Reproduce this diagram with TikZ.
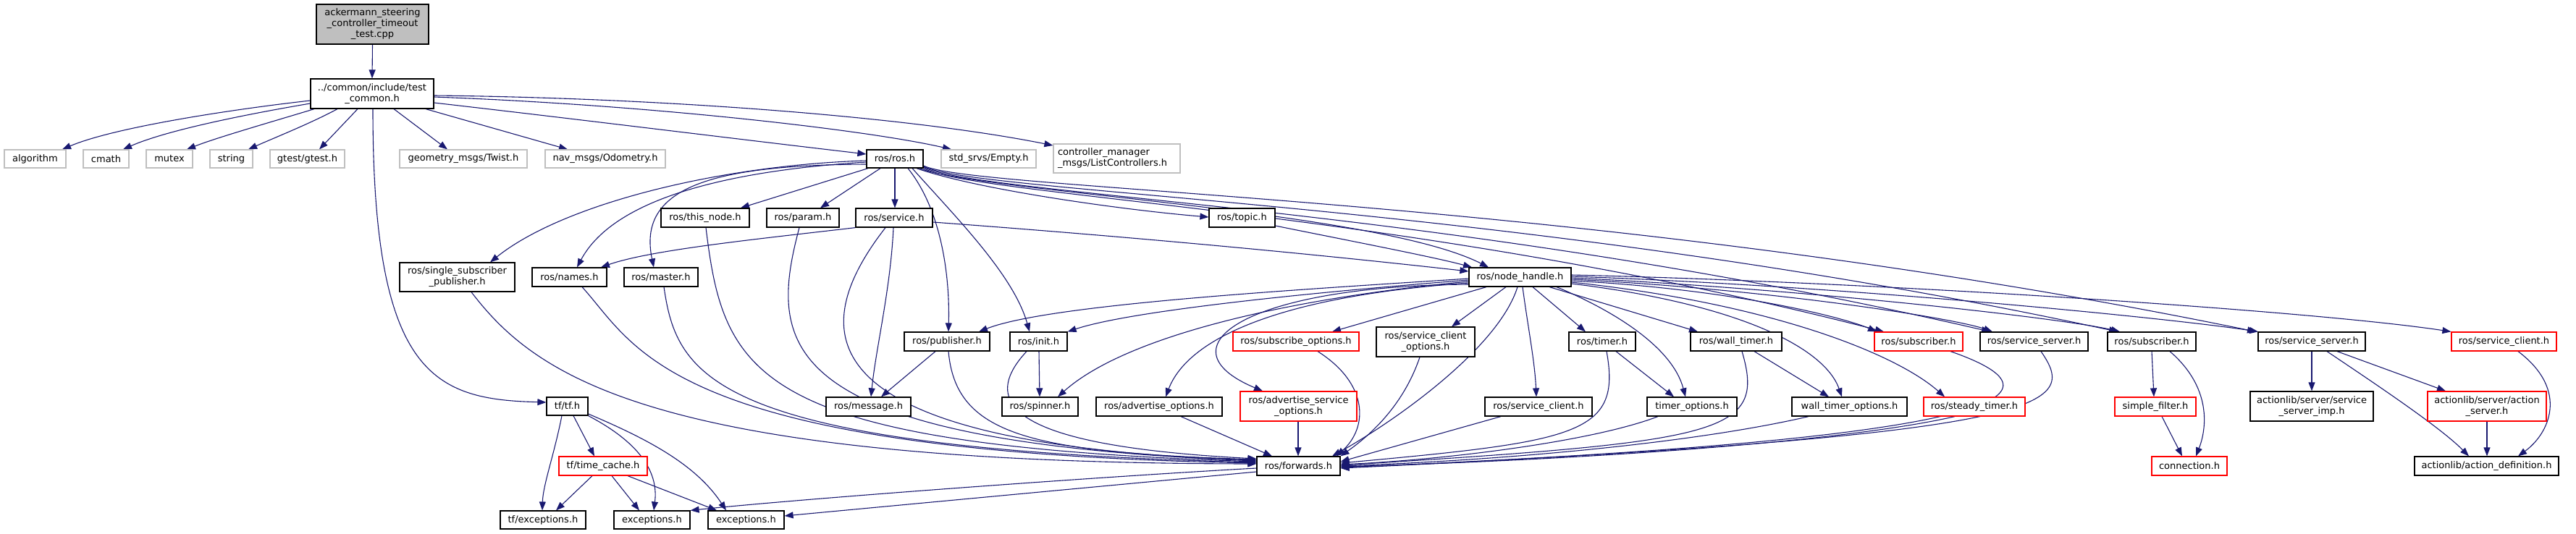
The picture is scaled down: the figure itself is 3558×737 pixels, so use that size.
\documentclass[tikz,border=0pt]{standalone}
\usepackage{fontspec}
\setmainfont{DejaVu Sans}
\usetikzlibrary{arrows.meta}
\definecolor{edgeblue}{HTML}{191970}
\definecolor{extgray}{HTML}{BFBFBF}
\definecolor{rootgray}{HTML}{BFBFBF}
\newcommand\dvf{\fontsize{13pt}{15pt}\selectfont}
\pgfdeclarelayer{edgelayer}
\pgfsetlayers{edgelayer,main}
\tikzset{
  nd/.style={draw=black, line width=1.2pt, fill=white, inner sep=0pt, align=center, font=\dvf},
  ext/.style={nd, draw=extgray},
  trunc/.style={nd, draw=red},
  rt/.style={nd, fill=rootgray},
  e/.style={draw=edgeblue, line width=1.1pt, -{Triangle[length=12pt,width=9pt]}},
}
\newcommand\bx[7]{\node[#1, minimum width={(#4-#3)*1pt}, minimum height={(#6-#5)*1pt}] (#2) at ({(#3+#4)/2},{(#5+#6)/2}) {#7};}
\begin{document}
\begin{tikzpicture}[x=1pt,y=-1pt]
\useasboundingbox (0,0) rectangle (3558,737);
% nodes
\bx{rt}{root}{437}{592}{6}{61}{ackermann\_steering\\\_controller\_timeout\\\_test.cpp}
\bx{nd}{tc}{429}{599}{109}{150}{../common/include/test\\\_common.h}
\bx{ext}{alg}{6}{91}{207}{232}{algorithm}
\bx{ext}{cmath}{115}{178}{207}{232}{cmath}
\bx{ext}{mutex}{202}{266}{207}{232}{mutex}
\bx{ext}{string}{290}{349}{207}{232}{string}
\bx{ext}{gtest}{373}{476}{207}{232}{gtest/gtest.h}
\bx{ext}{twist}{552}{728}{207}{232}{geometry\_msgs/Twist.h}
\bx{ext}{odom}{753}{919}{207}{232}{nav\_msgs/Odometry.h}
\bx{nd}{rosh}{1197}{1275}{207}{232}{ros/ros.h}
\bx{ext}{empty}{1300}{1431}{207}{232}{std\_srvs/Empty.h}
\node[ext, align=left, minimum width=175pt, minimum height=40pt, text width=163pt] (cmm) at (1542.5,219) {controller\_manager\\\_msgs/ListControllers.h};
\bx{nd}{thisnode}{913}{1035}{288}{314}{ros/this\_node.h}
\bx{nd}{param}{1059}{1159}{288}{314}{ros/param.h}
\bx{nd}{service}{1182}{1288}{288}{314}{ros/service.h}
\bx{nd}{topic}{1670}{1761}{288}{314}{ros/topic.h}
\bx{nd}{ssp}{552}{711}{363}{403}{ros/single\_subscriber\\\_publisher.h}
\bx{nd}{names}{735}{838}{370}{396}{ros/names.h}
\bx{nd}{master}{862}{964}{370}{396}{ros/master.h}
\bx{nd}{nh}{2029}{2170}{370}{396}{ros/node\_handle.h}
\bx{nd}{publisher}{1249}{1367}{459}{485}{ros/publisher.h}
\bx{nd}{init}{1395}{1474}{459}{485}{ros/init.h}
\bx{trunc}{subopt}{1703}{1877}{459}{485}{ros/subscribe\_options.h}
\bx{nd}{sco}{1901}{2037}{452}{493}{ros/service\_client\\\_options.h}
\bx{nd}{timer}{2167}{2259}{459}{485}{ros/timer.h}
\bx{nd}{walltimer}{2335}{2461}{459}{485}{ros/wall\_timer.h}
\bx{trunc}{subred}{2589}{2711}{459}{485}{ros/subscriber.h}
\bx{nd}{ssa}{2735}{2884}{459}{485}{ros/service\_server.h}
\bx{nd}{subblk}{2911}{3033}{459}{485}{ros/subscriber.h}
\bx{nd}{ssb}{3119}{3267}{459}{485}{ros/service\_server.h}
\bx{trunc}{scred}{3386}{3531}{459}{485}{ros/service\_client.h}
\bx{nd}{message}{1141}{1258}{549}{575}{ros/message.h}
\bx{nd}{spinner}{1384}{1489}{549}{575}{ros/spinner.h}
\bx{nd}{advopt}{1514}{1688}{549}{575}{ros/advertise\_options.h}
\bx{trunc}{advsrv}{1713}{1874}{541}{582}{ros/advertise\_service\\\_options.h}
\bx{nd}{scblk}{2051}{2199}{549}{575}{ros/service\_client.h}
\bx{nd}{timeropt}{2275}{2399}{549}{575}{timer\_options.h}
\bx{nd}{wtopt}{2475}{2634}{549}{575}{wall\_timer\_options.h}
\bx{trunc}{steady}{2657}{2797}{549}{575}{ros/steady\_timer.h}
\bx{trunc}{simplef}{2921}{3033}{549}{575}{simple\_filter.h}
\bx{nd}{ssimp}{3108}{3278}{541}{582}{actionlib/server/service\\\_server\_imp.h}
\bx{trunc}{actsrv}{3353}{3517}{541}{582}{actionlib/server/action\\\_server.h}
\bx{nd}{tf}{755}{812}{549}{574}{tf/tf.h}
\bx{trunc}{timecache}{772}{894}{631}{657}{tf/time\_cache.h}
\bx{nd}{forwards}{1736}{1851}{631}{657}{ros/forwards.h}
\bx{trunc}{connection}{2972}{3076}{631}{657}{connection.h}
\bx{nd}{actdef}{3335}{3534}{631}{657}{actionlib/action\_definition.h}
\bx{nd}{tfexc}{691}{809}{706}{731}{tf/exceptions.h}
\bx{nd}{exca}{848}{953}{706}{731}{exceptions.h}
\bx{nd}{excb}{978}{1083}{706}{731}{exceptions.h}

\begin{pgfonlayer}{edgelayer}
% edges: root and test_common
\draw[e] (root.south) -- (tc.north);
\draw[e] (tc.west |- 0,139) .. controls (330,150) and (160,175) .. (alg.north -| 86,0);
\draw[e] (tc.west |- 0,143) .. controls (340,158) and (230,180) .. (cmath.north -| 170,0);
\draw[e] (tc.south -| 434,0) .. controls (370,170) and (300,190) .. (mutex.north -| 258,0);
\draw[e] (tc.south -| 466,0) .. controls (430,170) and (380,190) .. (string.north -| 343,0);
\draw[e] (tc.south -| 494,0) -- (gtest.north -| 441,0);
\draw[e] (tc.south -| 544,0) -- (twist.north -| 618,0);
\draw[e] (tc.south -| 588,0) -- (odom.north -| 784,0);
\draw[e] (tc.east |- 0,142) .. controls (800,165) and (1000,190) .. (rosh.west |- 0,213);
\draw[e] (tc.east |- 0,134) .. controls (900,145) and (1200,180) .. (empty.north -| 1314,0);
\draw[e] (tc.east |- 0,132) .. controls (900,135) and (1250,160) .. (cmm.west |- 0,201);
\draw[e] (tc.south -| 515,0) .. controls (515,520) and (600,552) .. (tf.west |- 0,556);

% ros.h
\draw[e] (rosh.west |- 0,222) .. controls (1000,228) and (780,280) .. (ssp.north -| 677,0);
\draw[e] (rosh.west |- 0,224) .. controls (1020,235) and (850,270) .. (names.north -| 797,0);
\draw[e] (rosh.west |- 0,227) .. controls (980,228) and (880,260) .. (master.north -| 903,0);
\draw[e] (rosh.south -| 1199,0) -- (thisnode.north -| 1023,0);
\draw[e] (rosh.south -| 1216,0) -- (param.north -| 1133,0);
\draw[e] (rosh.south -| 1236,0) -- (service.north -| 1236,0);
\draw[e] (rosh.south -| 1254,0) .. controls (1300,290) and (1312,380) .. (publisher.north -| 1310,0);
\draw[e] (rosh.south -| 1260,0) .. controls (1320,300) and (1400,380) .. (init.north -| 1422,0);
\draw[e] (rosh.south -| 1266,0) .. controls (1350,262) and (1550,290) .. (topic.west |- 0,300);
\draw[e] (rosh.south -| 1270,0) .. controls (1350,265) and (1900,290) .. (nh.north -| 2056,0);
\draw[e] (rosh.south east) .. controls (1350,272) and (1950,290) .. (subred.north -| 2602,0);
\draw[e] (rosh.east |- 0,231) .. controls (1350,270) and (2000,285) .. (ssa.north -| 2749,0);
\draw[e] (rosh.east |- 0,230) .. controls (1350,268) and (2100,280) .. (subblk.north -| 2925,0);
\draw[e] (rosh.east |- 0,229) .. controls (1350,265) and (2200,270) .. (ssb.north -| 3116,0);

% service.h, topic.h
\draw[e] (service.south west) .. controls (1050,330) and (900,345) .. (names.north -| 830,0);
\draw[e] (service.south -| 1234,0) .. controls (1230,400) and (1210,480) .. (message.north -| 1203,0);
\draw[e] (service.south -| 1223,0) .. controls (1110,460) and (1110,615) .. (forwards.west |- 0,636);
\draw[e] (service.east |- 0,307) .. controls (1600,330) and (1850,355) .. (nh.west |- 0,375);
\draw[e] (topic.east |- 0,312) .. controls (1850,330) and (1980,355) .. (nh.north -| 2033,0);

% node_handle.h
\draw[e] (nh.west |- 0,385) .. controls (1800,400) and (1450,420) .. (publisher.north -| 1352,0);
\draw[e] (nh.west |- 0,387) .. controls (1800,405) and (1560,430) .. (init.north east);
\draw[e] (nh.west |- 0,389) .. controls (1800,410) and (1560,460) .. (spinner.north -| 1461,0);
\draw[e] (nh.west |- 0,391) .. controls (1760,410) and (1640,470) .. (advopt.north -| 1610,0);
\draw[e] (nh.west |- 0,393) .. controls (1720,395) and (1600,480) .. (advsrv.north -| 1744,0);
\draw[e] (nh.south -| 2053,0) -- (subopt.north -| 1840,0);
\draw[e] (nh.south -| 2080,0) -- (sco.north -| 2005,0);
\draw[e] (nh.south -| 2096,0) .. controls (2070,480) and (1930,580) .. (forwards.north -| 1840,0);
\draw[e] (nh.south -| 2103,0) .. controls (2110,450) and (2120,500) .. (scblk.north -| 2122,0);
\draw[e] (nh.south -| 2117,0) -- (timer.north -| 2190,0);
\draw[e] (nh.south -| 2150,0) .. controls (2230,430) and (2310,480) .. (timeropt.north -| 2328,0);
\draw[e] (nh.south -| 2140,0) -- (walltimer.north -| 2345,0);
\draw[e] (nh.east |- 0,392) .. controls (2400,420) and (2520,480) .. (wtopt.north -| 2544,0);
\draw[e] (nh.east |- 0,390) .. controls (2450,420) and (2620,490) .. (steady.north -| 2686,0);
\draw[e] (nh.east |- 0,388) .. controls (2400,400) and (2550,440) .. (subred.north -| 2592,0);
\draw[e] (nh.east |- 0,386) .. controls (2450,400) and (2700,440) .. (ssa.north -| 2752,0);
\draw[e] (nh.east |- 0,384) .. controls (2500,400) and (2850,440) .. (subblk.north -| 2928,0);
\draw[e] (nh.east |- 0,382) .. controls (2550,395) and (3000,440) .. (ssb.north -| 3119,0);
\draw[e] (nh.east |- 0,380) .. controls (2600,390) and (3200,430) .. (scred.north west);

% into forwards.h from the left
\draw[e] (ssp.south -| 651,0) .. controls (740,520) and (900,640) .. (forwards.west |- 0,641);
\draw[e] (names.south -| 804,0) .. controls (880,480) and (920,625) .. (forwards.west |- 0,640);
\draw[e] (master.south -| 917,0) .. controls (935,520) and (980,620) .. (forwards.west |- 0,639);
\draw[e] (thisnode.south -| 975,0) .. controls (1000,520) and (1040,615) .. (forwards.west |- 0,638);
\draw[e] (param.south -| 1104,0) .. controls (1060,480) and (1070,610) .. (forwards.west |- 0,637);
\draw[e] (publisher.south -| 1310,0) .. controls (1320,600) and (1420,625) .. (forwards.west |- 0,635);
\draw[e] (init.south -| 1418,0) .. controls (1330,580) and (1470,620) .. (forwards.west |- 0,634);
\draw[e] (publisher.south -| 1292,0) -- (message.north -| 1217,0);
\draw[e] (init.south -| 1435,0) -- (spinner.north -| 1436,0);
\draw[e] (advopt.south -| 1631,0) -- (forwards.north -| 1757,0);
\draw[e] (advsrv.south -| 1793,0) -- (forwards.north -| 1793,0);
\draw[e] (subopt.south -| 1820,0) .. controls (1890,530) and (1890,590) .. (forwards.north -| 1846,0);
\draw[e] (sco.south -| 1961,0) .. controls (1935,570) and (1880,610) .. (forwards.north east);

% into forwards.h from the right
\draw[e] (scblk.south -| 2073,0) -- (forwards.east |- 0,638);
\draw[e] (timer.south -| 2219,0) .. controls (2240,600) and (2180,610) .. (forwards.east |- 0,640);
\draw[e] (timer.south -| 2232,0) -- (timeropt.north -| 2312,0);
\draw[e] (timeropt.south -| 2290,0) .. controls (2200,610) and (2000,635) .. (forwards.east |- 0,642);
\draw[e] (walltimer.south -| 2406,0) .. controls (2440,600) and (2380,610) .. (forwards.east |- 0,643);
\draw[e] (walltimer.south -| 2423,0) -- (wtopt.north -| 2526,0);
\draw[e] (wtopt.south -| 2498,0) .. controls (2350,610) and (2100,635) .. (forwards.east |- 0,644);
\draw[e] (steady.south -| 2700,0) .. controls (2550,610) and (2200,635) .. (forwards.east |- 0,645);
\draw[e] (subred.south -| 2694,0) .. controls (2850,540) and (2830,605) .. (forwards.east |- 0,646);
\draw[e] (ssa.south -| 2819,0) .. controls (2870,560) and (2850,600) .. (forwards.east |- 0,647);

% tf
\draw[e] (tf.south -| 776,0) .. controls (765,630) and (750,670) .. (tfexc.north -| 749,0);
\draw[e] (tf.south -| 792,0) -- (timecache.north -| 821,0);
\draw[e] (tf.south east) .. controls (880,610) and (910,650) .. (exca.north -| 903,0);
\draw[e] (tf.east |- 0,572) .. controls (890,605) and (960,640) .. (excb.north -| 1003,0);
\draw[e] (timecache.south -| 818,0) -- (tfexc.north -| 768,0);
\draw[e] (timecache.south -| 845,0) -- (exca.north -| 883,0);
\draw[e] (timecache.south -| 867,0) -- (excb.north -| 990,0);
\draw[e] (forwards.west |- 0,647) .. controls (1500,660) and (1100,690) .. (exca.north east);
\draw[e] (forwards.west |- 0,652) -- (excb.east |- 0,713);

% right cluster
\draw[e] (subblk.south -| 2972,0) -- (simplef.north -| 2975,0);
\draw[e] (subblk.south -| 2997,0) .. controls (3060,540) and (3045,600) .. (connection.north -| 3033,0);
\draw[e] (simplef.south -| 2986,0) -- (connection.north -| 3014,0);
\draw[e] (ssb.south -| 3193,0) -- (ssimp.north -| 3193,0);
\draw[e] (ssb.south -| 3214,0) .. controls (3280,530) and (3370,590) .. (actdef.north -| 3410,0);
\draw[e] (ssb.south -| 3228,0) -- (actsrv.north -| 3378,0);
\draw[e] (actsrv.south) -- (actdef.north -| 3435,0);
\draw[e] (scred.south -| 3478,0) .. controls (3550,540) and (3520,600) .. (actdef.north -| 3478,0);
\end{pgfonlayer}
\end{tikzpicture}
\end{document}
